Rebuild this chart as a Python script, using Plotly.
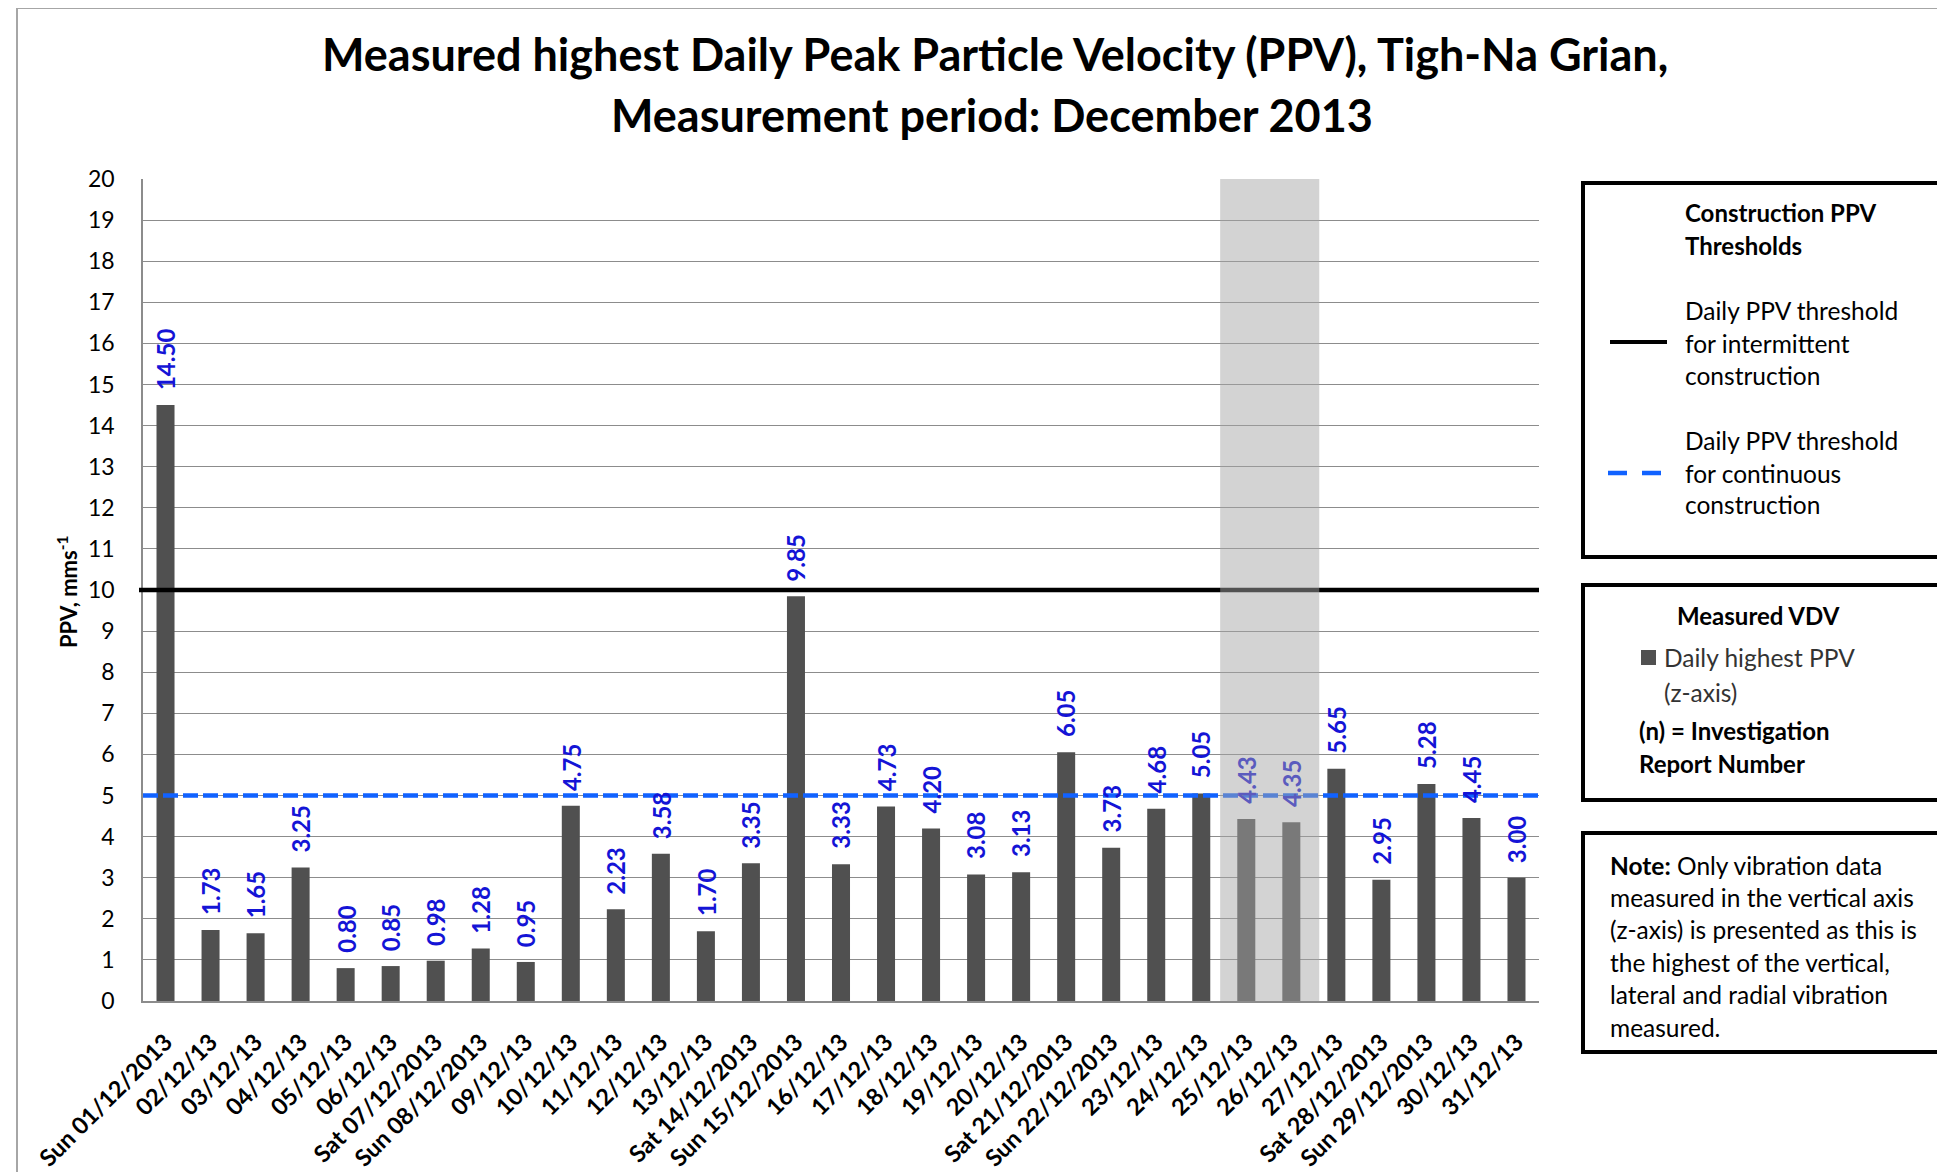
import plotly.graph_objects as go

# data
dates = ["Sun 01/12/2013", "02/12/13", "03/12/13", "04/12/13", "05/12/13", "06/12/13",
         "Sat 07/12/2013", "Sun 08/12/2013", "09/12/13", "10/12/13", "11/12/13", "12/12/13",
         "13/12/13", "Sat 14/12/2013", "Sun 15/12/2013", "16/12/13", "17/12/13", "18/12/13",
         "19/12/13", "20/12/13", "Sat 21/12/2013", "Sun 22/12/2013", "23/12/13", "24/12/13",
         "25/12/13", "26/12/13", "27/12/13", "Sat 28/12/2013", "Sun 29/12/2013", "30/12/13",
         "31/12/13"]
ppv = [14.50, 1.73, 1.65, 3.25, 0.80, 0.85, 0.98, 1.28, 0.95, 4.75, 2.23, 3.58, 1.70, 3.35,
       9.85, 3.33, 4.73, 4.20, 3.08, 3.13, 6.05, 3.73, 4.68, 5.05, 4.43, 4.35, 5.65, 2.95,
       5.28, 4.45, 3.00]
intermittent_threshold = [10]
continuous_threshold = [5]
holiday_dates = ["25/12/13", "26/12/13"]
y_ticks = list(range(0, 21))

W, H = 1945, 1172
PAGE = 8  # default body margin of the html page
# plot area in reference pixels
L, R, T, B = 143, 1539, 179, 1001
FONT = "Lato"
BAR = "#505050"
LABEL_BLUE = "#1414d6"
LINE_BLUE = "#1162ff"
SHADE = (165, 165, 165)
SHADE_OP = 0.49
LEG = 24.5


def px(x):
    return (x - L) / (R - L)


def py(y):
    return (B - y) / (B - T)


def faded(hexcol):
    c = [int(hexcol[i:i + 2], 16) for i in (1, 3, 5)]
    m = [round(SHADE_OP * s + (1 - SHADE_OP) * v) for s, v in zip(SHADE, c)]
    return "rgb(%d,%d,%d)" % tuple(m)


fig = go.Figure()
fig.add_trace(go.Bar(x=dates, y=ppv, marker=dict(color=BAR, line=dict(width=0)),
                     showlegend=False, hoverinfo="x+y"))

shapes = []
annotations = []

# threshold lines
for v in intermittent_threshold:
    shapes.append(dict(type="line", xref="paper", yref="y", x0=px(139), x1=1, y0=v, y1=v,
                       line=dict(color="black", width=4.5), layer="above"))
for v in continuous_threshold:
    shapes.append(dict(type="line", xref="paper", yref="y", x0=0, x1=1, y0=v, y1=v,
                       line=dict(color=LINE_BLUE, width=4.5, dash="15px,5px"), layer="above"))

# shaded holiday period
i0 = dates.index(holiday_dates[0])
i1 = dates.index(holiday_dates[-1])
shapes.append(dict(type="rect", xref="x", yref="paper", x0=i0 - 0.58, x1=i1 + 0.62, y0=0, y1=1,
                   fillcolor="rgb(%d,%d,%d)" % SHADE, opacity=SHADE_OP, line=dict(width=0),
                   layer="above"))

# value labels
for i, (d, v) in enumerate(zip(dates, ppv)):
    col = faded(LABEL_BLUE) if i0 <= i <= i1 else LABEL_BLUE
    annotations.append(dict(x=d, y=v, xref="x", yref="y", text="<b>%.2f</b>" % v,
                            textangle=-90, showarrow=False, xanchor="center", yanchor="bottom",
                            yshift=13, font=dict(family=FONT, size=24, color=col)))

# chart border
shapes.append(dict(type="rect", xref="paper", yref="paper", x0=px(17), x1=px(2100),
                   y0=py(1400), y1=py(8), line=dict(color="#a6a6a6", width=2), layer="below"))

# title
annotations.append(dict(xref="paper", yref="paper", x=px(995), y=py(54),
                        text="<b>Measured highest Daily Peak Particle Velocity (PPV), Tigh-Na Grian,</b>",
                        showarrow=False, xanchor="center", yanchor="middle",
                        font=dict(family=FONT, size=45, color="black")))
annotations.append(dict(xref="paper", yref="paper", x=px(992), y=py(115),
                        text="<b>Measurement period: December 2013</b>",
                        showarrow=False, xanchor="center", yanchor="middle",
                        font=dict(family=FONT, size=45, color="black")))

# y axis title
annotations.append(dict(xref="paper", yref="paper", x=px(67), y=py(592),
                        text="<b>PPV, mms<sup>-1</sup></b>", textangle=-90, showarrow=False,
                        xanchor="center", yanchor="middle",
                        font=dict(family=FONT, size=22, color="black")))


def txt(x, y, s, size=LEG, color="black"):
    annotations.append(dict(xref="paper", yref="paper", x=px(x), y=py(y), text=s,
                            showarrow=False, xanchor="left", yanchor="middle",
                            font=dict(family=FONT, size=size, color=color)))


def box(y0, y1):
    shapes.append(dict(type="rect", xref="paper", yref="paper", x0=px(1583), x1=px(2100),
                       y0=py(y1), y1=py(y0), line=dict(color="black", width=4),
                       fillcolor="white", layer="above"))


# legend box 1: thresholds
box(183, 557)
txt(1683, 213, "<b>Construction PPV</b>", size=24)
txt(1683, 245, "<b>Thresholds</b>", size=24)
txt(1683, 310, "Daily PPV threshold")
txt(1683, 343, "for intermittent")
txt(1683, 375, "construction")
shapes.append(dict(type="line", xref="paper", yref="paper", x0=px(1610), x1=px(1667),
                   y0=py(342), y1=py(342), line=dict(color="black", width=4), layer="above"))
txt(1683, 440, "Daily PPV threshold")
txt(1683, 473, "for continuous")
txt(1683, 505, "construction")
shapes.append(dict(type="line", xref="paper", yref="paper", x0=px(1608), x1=px(1662),
                   y0=py(473), y1=py(473),
                   line=dict(color=LINE_BLUE, width=4.5, dash="19px,15px"), layer="above"))

# legend box 2: measured
box(585, 800)
txt(1675, 615, "<b>Measured VDV</b>", size=24)
shapes.append(dict(type="rect", xref="paper", yref="paper", x0=px(1641), x1=px(1656),
                   y0=py(665), y1=py(650), fillcolor=BAR, line=dict(width=0), layer="above"))
txt(1662, 657, "Daily highest PPV", color="#333333")
txt(1662, 692, "(z-axis)", color="#333333")
txt(1637, 730, "<b>(n) = Investigation</b>", size=24)
txt(1637, 763, "<b>Report Number</b>", size=24)

# legend box 3: note
box(833, 1052)
note_lines = ["<b>Note:</b> Only vibration data", "measured in the vertical axis",
              "(z-axis) is presented as this is", "the highest of the vertical,",
              "lateral and radial vibration", "measured."]
for k, s in enumerate(note_lines):
    txt(1608, 865 + k * 32.4, s)

axis_common = dict(automargin=False, ticks="", showline=True, linecolor="#8c8c8c")

fig.update_layout(
    width=W - PAGE, height=H - PAGE,
    margin=dict(l=L - PAGE, r=W - R, t=T - PAGE, b=H - B, pad=0, autoexpand=False),
    paper_bgcolor="white", plot_bgcolor="white",
    bargap=0.6,
    shapes=shapes, annotations=annotations,
    showlegend=False,
    xaxis=dict(type="category", tickangle=-45, showgrid=False, linewidth=2,
               ticklabelstandoff=16,
               tickfont=dict(family=FONT, size=23.5, color="black", weight="bold"),
               **axis_common),
    yaxis=dict(range=[0, 20], tickvals=y_ticks, showgrid=True, gridcolor="#8c8c8c",
               gridwidth=1.3, linewidth=1.5, zeroline=False, ticklabelstandoff=22,
               tickfont=dict(family=FONT, size=23, color="black"),
               **axis_common),
)

fig.write_html("out.html")
